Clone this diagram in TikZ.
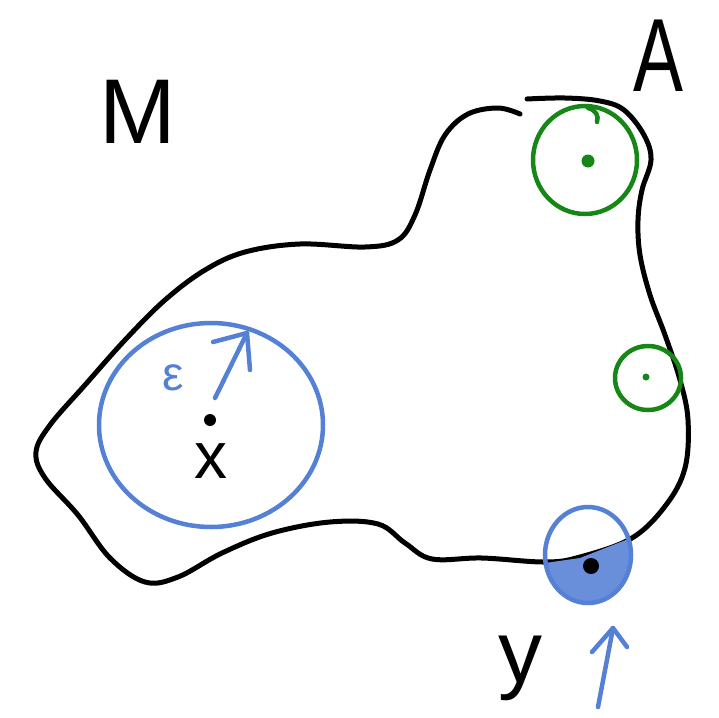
\documentclass[tikz,border=0pt]{standalone}
\usepackage{fontspec}
\setmainfont{Liberation Sans}
\usetikzlibrary{arrows.meta}
\definecolor{inkblue}{RGB}{84,128,214}
\definecolor{inkgreen}{RGB}{22,135,22}
\tikzset{
  blob/.style={line width=5pt, line cap=round, line join=round, black},
  greenring/.style={line width=4.5pt, inkgreen},
  bluering/.style={line width=4.5pt, inkblue},
  barb/.style={line width=4.5pt, line cap=round, line join=round, inkblue},
  lbl/.style={inner sep=0pt, font=\fontsize{92}{92}\selectfont},
  pointdot/.style={circle, fill, inner sep=0pt, minimum size=#1}
}
\begin{document}
\begin{tikzpicture}[x=1pt,y=-1pt]
\useasboundingbox (0,0) rectangle (719,717);
% blob outline
\draw[blob] plot[smooth, tension=0.6] coordinates {
 (520,114) (498,108) (468,114) (445,135) (430,170) (415,215) (398,240) (365,247)
 (300,244) (245,252) (205,270) (165,300) (125,340) (85,385) (50,425) (36,452)
 (45,478) (78,515) (110,558) (145,582) (178,577) (222,553) (272,533) (330,522)
 (378,524) (405,543) (432,559) (482,558) (545,562) (580,557) (632,538) (666,505)
 (685,468) (688,420) (680,380) (665,335) (650,295) (640,255) (638,220) (642,190)
 (651,160) (644,135) (624,110) (600,101) (565,98) (527,99)};
% green rings
\draw[greenring] (585,160) ellipse [x radius=52, y radius=54];
\draw[greenring, line cap=round] (588,108) .. controls (596,110) and (599,116) .. (597,122);
\node[pointdot=13pt, fill=inkgreen] (a1) at (588,161) {};
\draw[greenring] (648,378) ellipse [x radius=33, y radius=32];
\node[pointdot=7pt, fill=inkgreen] (a2) at (646,377) {};
% big blue ball
\draw[bluering] (211,425) ellipse [x radius=112, y radius=102];
\node[pointdot=12pt] (x) at (210,420) {};
\node[lbl, font=\fontsize{66}{66}\selectfont] (xl) at (211,461) {x};
\node[lbl, text=inkblue, font=\fontsize{48}{48}\selectfont] (eps) at (173,378) {ε};
\coordinate (e0) at (215,398);
\coordinate (e1) at (247,333);
\draw[barb] (e0) -- (e1);
\draw[barb] (213,342) -- (e1) -- (250,370);
% small blue ball at boundary point y
\begin{scope}
  \clip (538,564) -- (580,558) -- (636,536) -- (640,612) -- (538,612) -- cycle;
  \fill[inkblue!88] (588,555) ellipse [x radius=42, y radius=47];
\end{scope}
\draw[bluering] (588,555) ellipse [x radius=43, y radius=48];
\node[pointdot=16pt] (y) at (591,566) {};
\coordinate (b0) at (598,707);
\coordinate (b1) at (613,628);
\draw[barb] (b0) -- (b1);
\draw[barb] (592,652) -- (b1) -- (627,647);
% labels
\node[lbl] (M) at (138,112) {M};
\node[lbl, font=\fontsize{104}{104}\selectfont, xscale=0.72] (A) at (658,56) {A};
\node[lbl, font=\fontsize{88}{88}\selectfont] (yl) at (520,668) {y};
\end{tikzpicture}
\end{document}
